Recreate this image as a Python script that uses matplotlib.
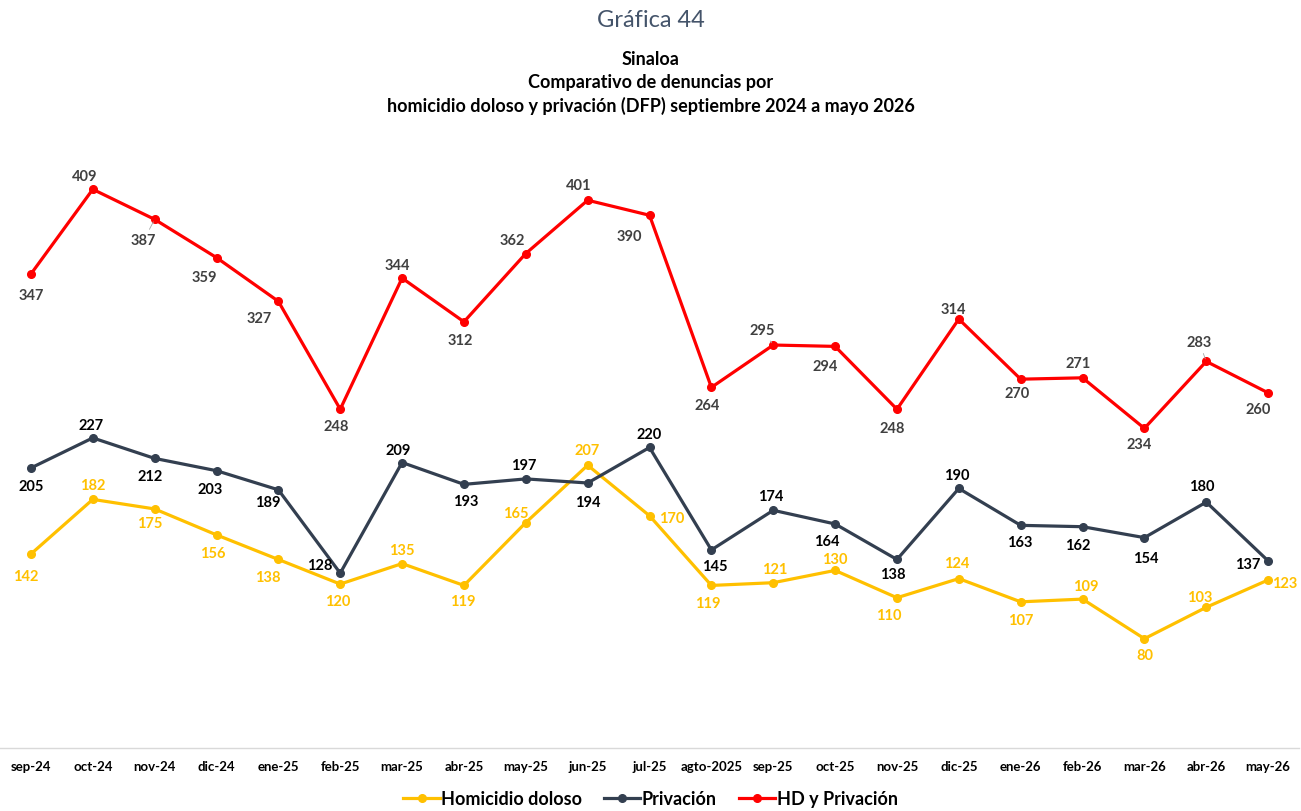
import matplotlib
matplotlib.use("Agg")
import matplotlib.pyplot as plt
from matplotlib.lines import Line2D

plt.rcParams['font.family'] = ['Lato', 'DejaVu Sans']

meses = ["sep-24", "oct-24", "nov-24", "dic-24", "ene-25", "feb-25", "mar-25",
         "abr-25", "may-25", "jun-25", "jul-25", "agto-2025", "sep-25", "oct-25",
         "nov-25", "dic-25", "ene-26", "feb-26", "mar-26", "abr-26", "may-26"]

homicidio = [142, 182, 175, 156, 138, 120, 135, 119, 165, 207, 170, 119, 121,
             130, 110, 124, 107, 109, 80, 103, 123]
privacion = [205, 227, 212, 203, 189, 128, 209, 193, 197, 194, 220, 145, 174,
             164, 138, 190, 163, 162, 154, 180, 137]
hd_privacion = [347, 409, 387, 359, 327, 248, 344, 312, 362, 401, 390, 264, 295,
                294, 248, 314, 270, 271, 234, 283, 260]

# label offsets in pixels (dx, dy up) relative to each point
off_hom = [(-5, -22), (0, 14), (-5, -14), (-4, -18), (-11, -18), (-3, -17), (0, 14),
           (-1, -16), (-10, 10), (-1, 15), (22, -2), (-4, -18), (1, 14), (0, 11),
           (-8, -17), (-2, 16), (0, -18), (3, 13), (0, -16), (-6, 10), (17, -3)]
off_priv = [(0, -18), (-2, 13), (-5, -18), (-6, -18), (-11, -12), (-21, 8), (-4, 13),
            (2, -17), (-2, 14), (0, -19), (0, 13), (3, -16), (-3, 14), (-8, -17),
            (-4, -15), (-2, 13), (-1, -17), (-5, -18), (1, -20), (-4, 16), (-20, -3)]
off_hd = [(0, -21), (-8, 13), (-11, -21), (-12, -19), (-19, -17), (-4, -17), (-5, 13),
          (-4, -18), (-14, 14), (-9, 15), (-20, -21), (-4, -18), (-11, 15), (-10, -20),
          (-5, -19), (-5, 10), (-4, -14), (-4, 15), (-5, -16), (-7, 19), (-10, -16)]
leader_hd = {2, 12, 19}

YELLOW = "#ffc000"
SLATE = "#333f50"
RED = "#ff0000"

fig = plt.figure(figsize=(13.01, 8.12), dpi=100)
ax = fig.add_axes([0.0, 0.0776, 0.9985, 0.757])

x = list(range(len(meses)))
series = [
    (homicidio, YELLOW, YELLOW, off_hom, "Homicidio doloso"),
    (privacion, SLATE, "#000000", off_priv, "Privación"),
    (hd_privacion, RED, "#404040", off_hd, "HD y Privación"),
]

for vals, col, lcol, offs, name in series:
    ax.plot(x, vals, color=col, lw=2.3, marker="o", ms=5.5, zorder=3,
            solid_joinstyle="miter")

for vals, col, lcol, offs, name in series:
    for i, v in enumerate(vals):
        dx, dy = offs[i]
        kw = {}
        if vals is hd_privacion and i in leader_hd:
            kw["arrowprops"] = dict(arrowstyle="-", color="#a6a6a6", lw=0.6,
                                    shrinkA=1, shrinkB=2)
        ax.annotate(str(v), (i, v), xytext=(dx, dy), textcoords="offset pixels",
                    ha="center", va="center", fontsize=10.5, fontweight="bold",
                    color=lcol, zorder=4, **kw)

ax.set_xlim(-0.5, len(meses) - 0.5)
ax.set_ylim(0, 450)
ax.set_xticks(x)
ax.set_xticklabels(meses, fontsize=9.5, fontweight="bold")
ax.tick_params(axis="x", length=0, pad=9)
ax.set_yticks([])
for s in ["top", "left", "right"]:
    ax.spines[s].set_visible(False)
ax.spines["bottom"].set_color("#d9d9d9")
ax.spines["bottom"].set_linewidth(1.0)

fig.text(0.5, 0.975, "Gráfica 44", ha="center", va="center",
         fontsize=17, color="#44546a")
fig.text(0.5, 0.927, "Sinaloa", ha="center", va="center",
         fontsize=13, fontweight="bold")
fig.text(0.5, 0.899, "Comparativo de denuncias por", ha="center", va="center",
         fontsize=13, fontweight="bold")
fig.text(0.5, 0.870, "homicidio doloso y privación (DFP) septiembre 2024 a mayo 2026",
         ha="center", va="center", fontsize=13, fontweight="bold")

handles = [Line2D([0], [0], color=c, lw=2.3, marker="o", ms=5.5)
           for _, c, _, _, _ in series]
labels = [n for *_, n in series]
fig.legend(handles, labels, loc="center", bbox_to_anchor=(0.5, 0.015), ncol=3,
           frameon=False, handlelength=2.0, handletextpad=0.1, columnspacing=1.2,
           prop={"size": 13, "weight": "bold"})

fig.savefig("out.png", dpi=100)
